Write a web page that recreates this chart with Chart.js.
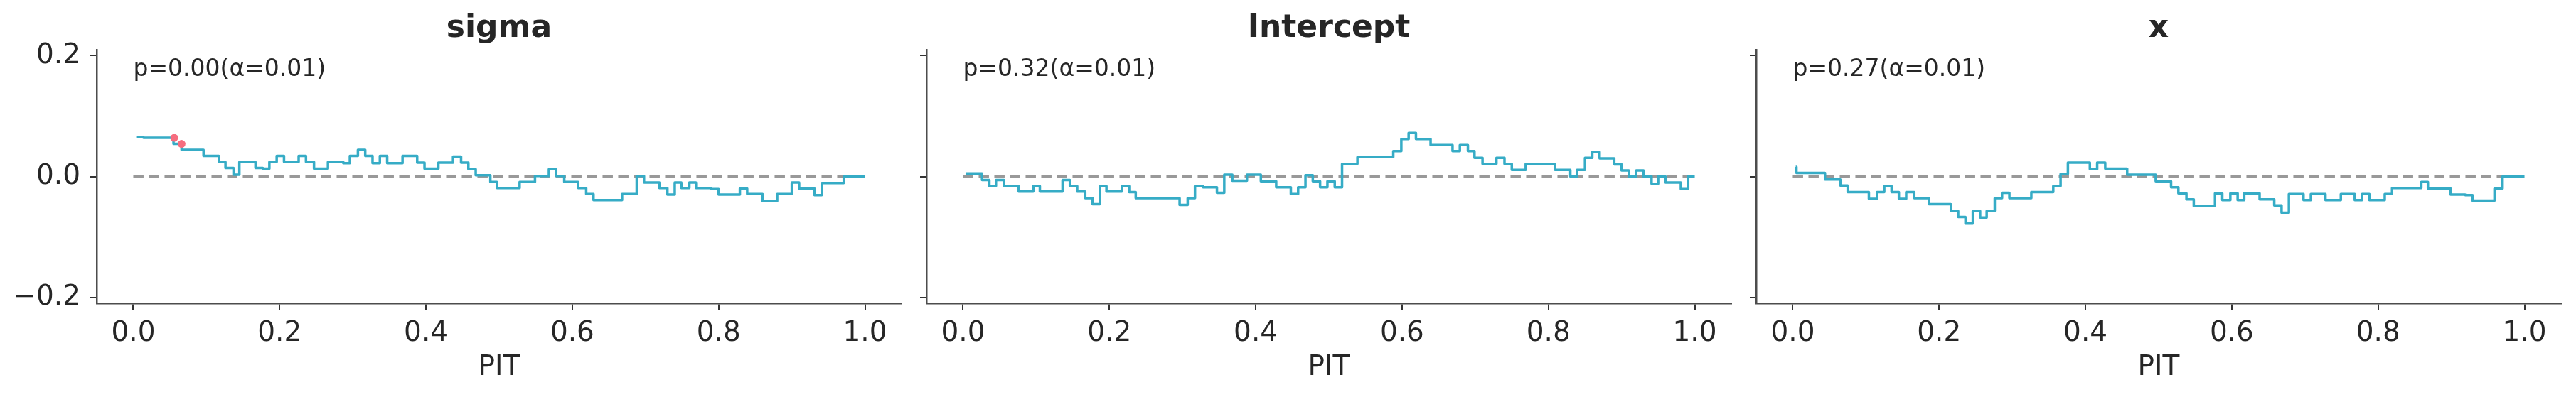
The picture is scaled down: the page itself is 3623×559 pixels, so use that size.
<!DOCTYPE html>
<html>
<head>
<meta charset="utf-8">
<script src="https://cdn.jsdelivr.net/npm/chart.js@4.4.1/dist/chart.umd.min.js"></script>
<style>
  body { margin: 0; background: #fff; }
  #wrap { position: relative; width: 3623px; height: 559px; background: #fff; }
  .panel { position: absolute; top: 0; }
</style>
</head>
<body>
<div id="wrap">
  <canvas id="chart-sigma" class="panel" width="1280" height="559" style="left:0px"></canvas>
  <canvas id="chart-intercept" class="panel" width="1280" height="559" style="left:1167px"></canvas>
  <canvas id="chart-x" class="panel" width="1280" height="559" style="left:2334px"></canvas>
</div>
<script>
//
// PIT ECDF difference panels
//

//
// Data
//

var titles = ["sigma", "Intercept", "x"];
var pLabels = ["p=0.00(\u03b1=0.01)", "p=0.32(\u03b1=0.01)", "p=0.27(\u03b1=0.01)"];
var xTicks = [0, 0.2, 0.4, 0.6, 0.8, 1.0];
var yTicks = [-0.2, 0, 0.2];

// expected difference (zero line)
var refPit = [0, 1];
var refDiff = [0, 0];

var sigmaPit = [0.004, 0.014, 0.055, 0.066, 0.096, 0.117, 0.126, 0.137, 0.145, 0.167, 0.177, 0.186, 0.196, 0.206, 0.226, 0.236,
  0.247, 0.266, 0.287, 0.296, 0.307, 0.317, 0.327, 0.337, 0.347, 0.368, 0.388, 0.398, 0.417, 0.437, 0.448, 0.458,
  0.468, 0.488, 0.497, 0.528, 0.549, 0.568, 0.578, 0.589, 0.608, 0.619, 0.629, 0.668, 0.688, 0.698, 0.719, 0.730,
  0.740, 0.749, 0.760, 0.769, 0.790, 0.800, 0.829, 0.839, 0.860, 0.880, 0.900, 0.910, 0.931, 0.941, 0.971, 1.0];
var sigmaDiff = [0.065, 0.064, 0.054, 0.044, 0.034, 0.024, 0.014, 0.003, 0.024, 0.014, 0.013, 0.024, 0.034, 0.024, 0.034, 0.024,
  0.013, 0.024, 0.022, 0.034, 0.044, 0.034, 0.022, 0.034, 0.022, 0.034, 0.023, 0.013, 0.023, 0.033, 0.023, 0.012,
  0.002, -0.009, -0.019, -0.009, 0.001, 0.012, 0.001, -0.009, -0.019, -0.029, -0.039, -0.029, 0.001, -0.010, -0.019, -0.030,
  -0.010, -0.019, -0.010, -0.019, -0.021, -0.030, -0.020, -0.029, -0.041, -0.029, -0.010, -0.020, -0.031, -0.011, 0, 0];
// points outside the envelope
var sigmaOutPit = [0.056, 0.066];
var sigmaOutDiff = [0.064, 0.054];

var interceptPit = [0.004, 0.026, 0.036, 0.045, 0.056, 0.076, 0.096, 0.105, 0.136, 0.146, 0.156, 0.167, 0.177, 0.187, 0.196, 0.217,
  0.227, 0.236, 0.296, 0.307, 0.317, 0.328, 0.347, 0.357, 0.368, 0.388, 0.407, 0.428, 0.448, 0.458, 0.468, 0.478,
  0.488, 0.498, 0.508, 0.518, 0.539, 0.588, 0.599, 0.609, 0.619, 0.639, 0.669, 0.679, 0.690, 0.699, 0.710, 0.729,
  0.740, 0.750, 0.769, 0.809, 0.830, 0.839, 0.850, 0.860, 0.870, 0.890, 0.900, 0.910, 0.920, 0.930, 0.941, 0.950,
  0.960, 0.981, 0.991, 1.0];
var interceptDiff = [0.005, -0.006, -0.016, -0.006, -0.016, -0.025, -0.016, -0.025, -0.006, -0.016, -0.025, -0.036, -0.046, -0.016, -0.025, -0.016,
  -0.026, -0.036, -0.047, -0.036, -0.016, -0.018, -0.027, 0.003, -0.007, 0.003, -0.008, -0.018, -0.029, -0.018, 0.002, -0.008,
  -0.018, -0.008, -0.018, 0.021, 0.032, 0.042, 0.062, 0.072, 0.062, 0.052, 0.042, 0.052, 0.042, 0.031, 0.021, 0.031,
  0.021, 0.011, 0.021, 0.011, 0, 0.011, 0.031, 0.041, 0.030, 0.020, 0.010, 0, 0.010, 0, -0.012, 0,
  -0.010, -0.021, 0, 0];

var xPit = [0.004, 0.005, 0.044, 0.065, 0.075, 0.104, 0.115, 0.125, 0.135, 0.145, 0.155, 0.166, 0.186, 0.216, 0.226, 0.236,
  0.246, 0.256, 0.265, 0.276, 0.286, 0.296, 0.326, 0.356, 0.366, 0.376, 0.406, 0.416, 0.427, 0.457, 0.496, 0.517,
  0.527, 0.538, 0.548, 0.577, 0.587, 0.598, 0.608, 0.617, 0.638, 0.658, 0.668, 0.678, 0.698, 0.708, 0.728, 0.749,
  0.768, 0.778, 0.788, 0.809, 0.819, 0.859, 0.868, 0.899, 0.919, 0.929, 0.959, 0.970, 1.0];
var xDiff = [0.016, 0.006, -0.005, -0.015, -0.026, -0.037, -0.026, -0.016, -0.026, -0.037, -0.026, -0.036, -0.046, -0.057, -0.067, -0.078,
  -0.057, -0.068, -0.057, -0.036, -0.027, -0.036, -0.026, -0.016, 0.004, 0.023, 0.012, 0.023, 0.013, 0.003, -0.008, -0.018,
  -0.028, -0.038, -0.049, -0.028, -0.039, -0.028, -0.039, -0.028, -0.038, -0.048, -0.060, -0.029, -0.039, -0.029, -0.039, -0.029,
  -0.039, -0.029, -0.039, -0.029, -0.019, -0.009, -0.020, -0.030, -0.031, -0.040, -0.020, 0, 0];

//
// Style
//

Chart.defaults.font.family = '"DejaVu Sans", sans-serif';
Chart.defaults.color = "#262626";

var lineColor = "#36acc6";
var outColor = "#f66d7f";
var refColor = "#999999";

function toPoints(xs, ys) {
  return xs.map(function (v, i) { return { x: v, y: ys[i] }; });
}

function fmtTick(v) {
  return Number(v).toFixed(1).replace("-", "\u2212");
}

// p-value note in the upper left corner
var pLabelPlugin = {
  id: "pLabel",
  afterDatasetsDraw: function (chart, args, opts) {
    var c = chart.ctx;
    c.save();
    c.font = '33px "DejaVu Sans"';
    c.fillStyle = "#262626";
    c.textAlign = "left";
    c.textBaseline = "alphabetic";
    c.fillText(opts.text, chart.scales.x.getPixelForValue(0), chart.chartArea.top + 37);
    c.restore();
  }
};

//
// Methods
//

function initChart(id, title, pLabel, pit, diff, outPit, outDiff, showYLabels) {
  var $chart = document.getElementById(id);

  var chart = new Chart($chart, {
    type: "line",
    data: {
      datasets: [
        {
          type: "scatter",
          data: toPoints(outPit, outDiff),
          backgroundColor: outColor,
          borderWidth: 0,
          pointRadius: 5.5,
          showLine: false
        },
        {
          data: toPoints(pit, diff),
          borderColor: lineColor,
          borderWidth: 3.5,
          stepped: true,
          pointRadius: 0,
          fill: false,
          borderJoinStyle: "round"
        },
        {
          data: toPoints(refPit, refDiff),
          borderColor: refColor,
          borderWidth: 3.5,
          borderDash: [14.5, 7.5],
          pointRadius: 0,
          fill: false
        }
      ]
    },
    options: {
      responsive: false,
      animation: false,
      devicePixelRatio: 1,
      layout: { padding: { left: 0, right: 12, top: 0, bottom: 0 } },
      plugins: {
        legend: { display: false },
        tooltip: { enabled: false },
        title: {
          display: true,
          text: title,
          fullSize: false,
          color: "#262626",
          font: { size: 44, weight: "bold" },
          padding: { top: 14, bottom: 3.2 }
        },
        pLabel: { text: pLabel }
      },
      scales: {
        x: {
          type: "linear",
          min: -0.05,
          max: 1.05,
          afterBuildTicks: function (s) { s.ticks = xTicks.map(function (v) { return { value: v }; }); },
          afterFit: function (s) { s.height = 132; },
          ticks: { font: { size: 39 }, color: "#262626", padding: 9, maxRotation: 0, autoSkip: false, callback: fmtTick },
          grid: { drawOnChartArea: false, drawTicks: true, tickLength: 10, color: "#333333", lineWidth: 2 },
          border: { display: true, color: "#4d4d4d", width: 2.5 },
          title: { display: true, text: "PIT", font: { size: 39 }, color: "#262626", padding: { top: 0, bottom: 18 } }
        },
        y: {
          type: "linear",
          min: -0.21,
          max: 0.21,
          afterBuildTicks: function (s) { s.ticks = yTicks.map(function (v) { return { value: v }; }); },
          afterFit: function (s) { s.width = 136; },
          ticks: { display: showYLabels, font: { size: 39 }, color: "#262626", padding: 14, callback: fmtTick },
          grid: { drawOnChartArea: false, drawTicks: true, tickLength: 9, color: "#333333", lineWidth: 2 },
          border: { display: true, color: "#4d4d4d", width: 2.5 }
        }
      }
    },
    plugins: [pLabelPlugin]
  });

  return chart;
}

// Init charts
initChart("chart-sigma", titles[0], pLabels[0], sigmaPit, sigmaDiff, sigmaOutPit, sigmaOutDiff, true);
initChart("chart-intercept", titles[1], pLabels[1], interceptPit, interceptDiff, [], [], false);
initChart("chart-x", titles[2], pLabels[2], xPit, xDiff, [], [], false);
</script>
</body>
</html>
